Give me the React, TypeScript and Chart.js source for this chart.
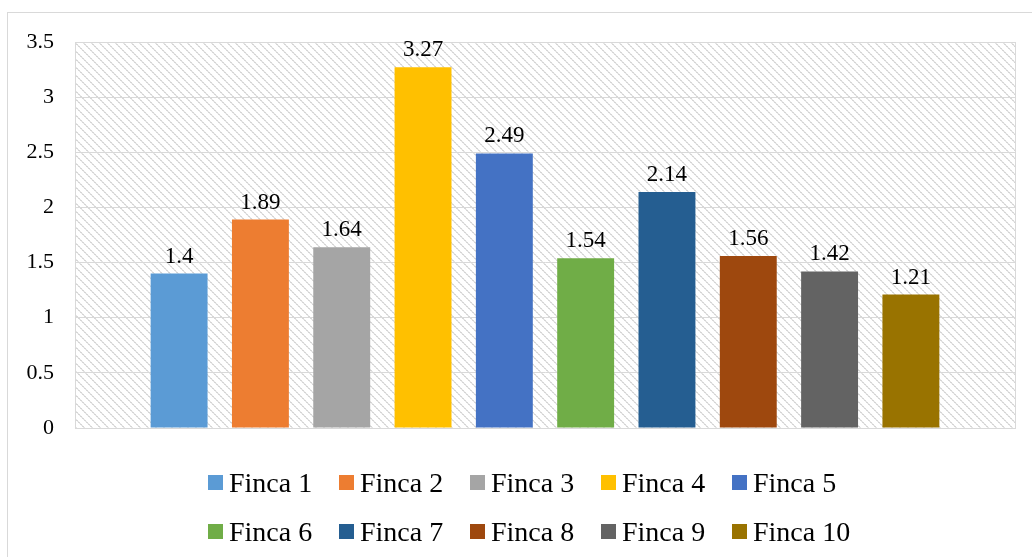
import React, { useEffect, useRef } from "react";
import { Chart, registerables } from "chart.js";

Chart.register(...registerables);

const categories = [""];
const seriesNames = ["Finca 1", "Finca 2", "Finca 3", "Finca 4", "Finca 5", "Finca 6", "Finca 7", "Finca 8", "Finca 9", "Finca 10"];
const seriesValues = [1.4, 1.89, 1.64, 3.27, 2.49, 1.54, 2.14, 1.56, 1.42, 1.21];
const seriesColors = ["#5B9BD5", "#ED7D31", "#A5A5A5", "#FFC000", "#4472C4", "#70AD47", "#255E91", "#9E480E", "#636363", "#997300"];
const yMin = 0;
const yMax = 3.5;
const yStep = 0.5;

const FONT = "'Liberation Serif', 'Times New Roman', serif";
const GRID = "#d9d9d9";

function makePattern(ctx: CanvasRenderingContext2D) {
  const c = document.createElement("canvas");
  c.width = 8;
  c.height = 8;
  const t = c.getContext("2d")!;
  t.fillStyle = "#ffffff";
  t.fillRect(0, 0, 8, 8);
  for (let y = 0; y < 8; y++) {
    for (let x = 0; x < 8; x++) {
      const d = (((x - y) % 8) + 8) % 8;
      if (d === 0 || d === 1) {
        t.fillStyle = (x + y) % 4 < 2 ? "#d6d6d6" : "#e6e6e6";
        t.fillRect(x, y, 1, 1);
      }
    }
  }
  return ctx.createPattern(c, "repeat");
}

const backgroundPlugin = {
  id: "bgFrame",
  beforeDraw(chart: any) {
    const { ctx, chartArea } = chart;
    ctx.save();
    ctx.fillStyle = "#ffffff";
    ctx.fillRect(0, 0, chart.width, chart.height);
    ctx.strokeStyle = GRID;
    ctx.lineWidth = 1;
    ctx.strokeRect(7.5, 12.5, 1100, 700);
    const p = makePattern(ctx);
    if (p) {
      ctx.fillStyle = p;
      ctx.fillRect(chartArea.left, chartArea.top, chartArea.right - chartArea.left, chartArea.bottom - chartArea.top);
    }
    ctx.restore();
  },
  beforeDatasetsDraw(chart: any) {
    const { ctx, chartArea } = chart;
    ctx.save();
    ctx.strokeStyle = GRID;
    ctx.lineWidth = 1;
    ctx.strokeRect(Math.round(chartArea.left) + 0.5, Math.round(chartArea.top) + 0.5, Math.round(chartArea.right - chartArea.left), Math.round(chartArea.bottom - chartArea.top));
    ctx.restore();
  },
};

const labelPlugin = {
  id: "valueLabels",
  afterDatasetsDraw(chart: any) {
    const { ctx } = chart;
    ctx.save();
    ctx.font = `23px ${FONT}`;
    ctx.fillStyle = "#000000";
    ctx.textAlign = "center";
    ctx.textBaseline = "alphabetic";
    chart.data.datasets.forEach((ds: any, i: number) => {
      const meta = chart.getDatasetMeta(i);
      meta.data.forEach((el: any, j: number) => {
        ctx.fillText(String(ds.data[j]), el.x, el.y - 11);
      });
    });
    ctx.restore();
  },
};

const legendPlugin = {
  id: "customLegend",
  afterDraw(chart: any) {
    const { ctx } = chart;
    ctx.save();
    ctx.font = `28px ${FONT}`;
    ctx.textAlign = "left";
    ctx.textBaseline = "alphabetic";
    const perRow = 5;
    const startX = 208;
    const colStep = 131;
    const startY = 475;
    const rowStep = 48.5;
    chart.data.datasets.forEach((ds: any, i: number) => {
      const row = Math.floor(i / perRow);
      const col = i % perRow;
      const x = startX + col * colStep;
      const y = startY + row * rowStep;
      ctx.fillStyle = ds.backgroundColor;
      ctx.fillRect(x, Math.round(y), 15, 15);
      ctx.fillStyle = "#000000";
      ctx.fillText(ds.label, x + 21, y + 17);
    });
    ctx.restore();
  },
};

export default function App() {
  const ref = useRef<HTMLCanvasElement | null>(null);
  useEffect(() => {
    if (!ref.current) return;
    const chart = new Chart(ref.current, {
      type: "bar",
      data: {
        labels: categories,
        datasets: seriesNames.map((name, i) => ({
          label: name,
          data: [seriesValues[i]],
          backgroundColor: seriesColors[i],
          borderWidth: 0,
          barPercentage: 0.7,
          categoryPercentage: 0.865,
        })),
      },
      options: {
        responsive: false,
        animation: false,
        devicePixelRatio: 1,
        layout: { padding: { top: 42, right: 17, bottom: 0, left: 0 } },
        plugins: {
          legend: { display: false },
          tooltip: { enabled: false },
        },
        scales: {
          x: {
            type: "category",
            grid: { display: false },
            border: { display: true, color: GRID },
            ticks: { display: false },
            afterFit(scale: any) {
              scale.height = 129;
            },
          },
          y: {
            min: yMin,
            max: yMax,
            ticks: {
              stepSize: yStep,
              color: "#000000",
              font: { family: FONT, size: 22 },
              padding: 21,
              callback: (v: any) => String(Number(v)),
            },
            grid: { color: GRID, drawTicks: false, lineWidth: 1 },
            border: { display: true, color: GRID },
            afterFit(scale: any) {
              scale.width = 75;
            },
          },
        },
      } as any,
      plugins: [backgroundPlugin, labelPlugin, legendPlugin],
    });
    return () => chart.destroy();
  }, []);
  return (
    <div style={{ position: "absolute", left: 0, top: 0, width: 1032, height: 557 }}>
      <canvas ref={ref} width={1032} height={557} style={{ width: 1032, height: 557 }} />
    </div>
  );
}
